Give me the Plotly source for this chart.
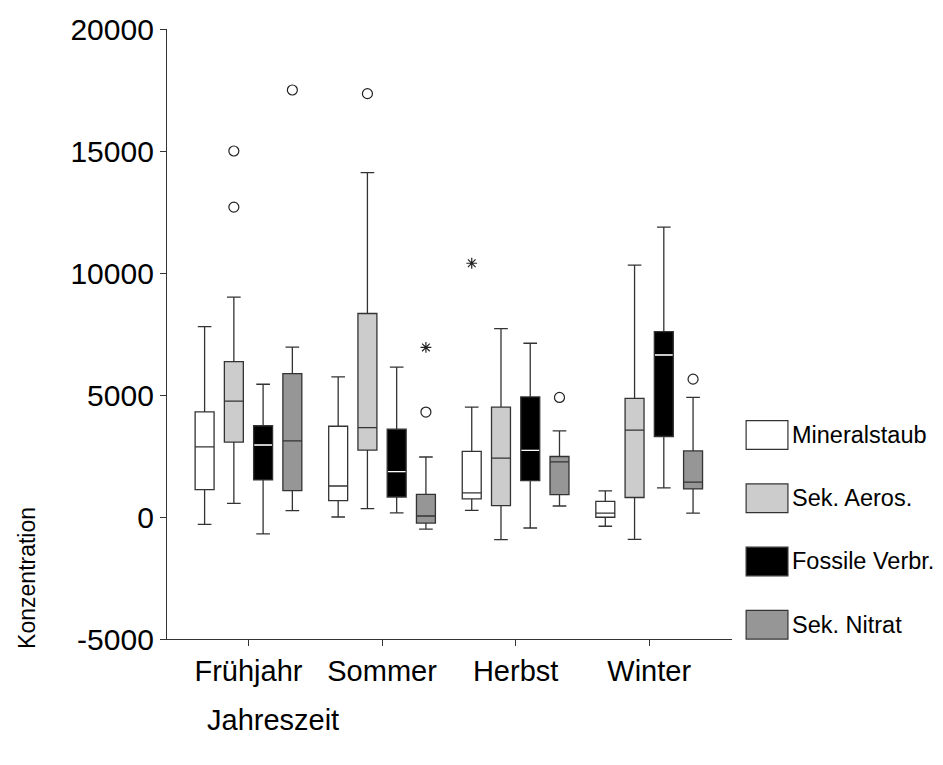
import plotly.graph_objects as go

seasons = ["Frühjahr", "Sommer", "Herbst", "Winter"]
series = ["Mineralstaub", "Sek. Aeros.", "Fossile Verbr.", "Sek. Nitrat"]

# Five-number summaries (whisker low, Q1, median, Q3, whisker high) per season
mineral_low = [-300, 0, 270, -380]
mineral_q1 = [1120, 670, 740, -10]
mineral_med = [2870, 1270, 990, 160]
mineral_q3 = [4310, 3720, 2690, 640]
mineral_high = [7800, 5740, 4500, 1070]

aeros_low = [560, 340, -930, -920]
aeros_q1 = [3070, 2740, 470, 800]
aeros_med = [4750, 3660, 2410, 3560]
aeros_q3 = [6370, 8340, 4500, 4860]
aeros_high = [9010, 14110, 7720, 10320]

fossil_low = [-690, 170, -450, 1190]
fossil_q1 = [1520, 820, 1490, 3300]
fossil_med = [2950, 1860, 2730, 6640]
fossil_q3 = [3740, 3600, 4920, 7600]
fossil_high = [5440, 6140, 7120, 11880]

nitrat_low = [260, -500, 450, 160]
nitrat_q1 = [1080, -250, 920, 1150]
nitrat_med = [3120, 40, 2260, 1430]
nitrat_q3 = [5880, 930, 2480, 2710]
nitrat_high = [6960, 2460, 3530, 4900]

# Outliers: series index, season index, value, extreme (asterisk) or not (circle)
outlier_series = [1, 1, 3, 1, 3, 3, 0, 3, 3]
outlier_season = [0, 0, 0, 1, 1, 1, 2, 2, 3]
outlier_value = [15000, 12700, 17500, 17350, 6950, 4300, 10400, 4900, 5650]
outlier_extreme = [False, False, False, False, True, False, True, False, False]

y_ticks = [-5000, 0, 5000, 10000, 15000, 20000]

summaries = [
    (mineral_low, mineral_q1, mineral_med, mineral_q3, mineral_high),
    (aeros_low, aeros_q1, aeros_med, aeros_q3, aeros_high),
    (fossil_low, fossil_q1, fossil_med, fossil_q3, fossil_high),
    (nitrat_low, nitrat_q1, nitrat_med, nitrat_q3, nitrat_high),
]
fills = ["#ffffff", "#cccccc", "#000000", "#969696"]
median_colors = ["#222222", "#333333", "#ffffff", "#333333"]
edge = "#333333"
font_family = "Liberation Sans, Arial, sans-serif"

step = 0.219      # distance between neighbouring boxes within a season
box_w = 0.142     # box width in axis units
offsets = [(i - 1.5) * step for i in range(len(series))]

fig = go.Figure()

for s, (lo, q1, med, q3, hi) in enumerate(summaries):
    xs = [k + offsets[s] for k in range(len(seasons))]
    fig.add_trace(go.Box(
        x=xs, lowerfence=lo, q1=q1, median=med, q3=q3, upperfence=hi,
        width=box_w, whiskerwidth=0.72, boxpoints=False,
        fillcolor=fills[s], line=dict(color=edge, width=1.3),
        name=series[s], showlegend=False,
    ))
    if median_colors[s] == "#ffffff":
        # light median line drawn on top of the dark box
        fig.add_trace(go.Box(
            x=xs, lowerfence=med, q1=med, median=med, q3=med, upperfence=med,
            width=box_w - 0.01, whiskerwidth=0.0, boxpoints=False,
            fillcolor="rgba(0,0,0,0)", line=dict(color="#ffffff", width=1.3),
            name=series[s] + " Median", showlegend=False, hoverinfo="skip",
        ))

for extreme, symbol in [(False, "circle-open"), (True, "asterisk-open")]:
    xs, ys = [], []
    for s, k, v, e in zip(outlier_series, outlier_season, outlier_value, outlier_extreme):
        if e == extreme:
            xs.append(k + offsets[s])
            ys.append(v)
    fig.add_trace(go.Scatter(
        x=xs, y=ys, mode="markers", showlegend=False,
        marker=dict(symbol=symbol, size=10 if not extreme else 9,
                    color="#222222", line=dict(width=1.2, color="#222222")),
    ))

# Legend drawn as swatches with labels to the right of the plot
shapes = []
annotations = []
row_top = 0.358
row_h = 0.047
row_gap = 0.1037
for s, name in enumerate(series):
    y1 = row_top - s * row_gap
    y0 = y1 - row_h
    shapes.append(dict(type="rect", xref="paper", yref="paper",
                       x0=1.025, x1=1.099, y0=y0, y1=y1,
                       fillcolor=fills[s], line=dict(color=edge, width=1.2)))
    annotations.append(dict(xref="paper", yref="paper", x=1.103, y=(y0 + y1) / 2,
                            text=name, showarrow=False, xanchor="left", yanchor="middle",
                            font=dict(family=font_family, size=23.5, color="#000000")))

annotations.append(dict(xref="paper", yref="paper", x=-0.248, y=0.10,
                        text="Konzentration", textangle=-90, showarrow=False,
                        xanchor="center", yanchor="middle",
                        font=dict(family=font_family, size=23, color="#000000")))
annotations.append(dict(xref="paper", yref="paper", x=0.188, y=-0.133,
                        text="Jahreszeit", showarrow=False,
                        xanchor="center", yanchor="middle",
                        font=dict(family=font_family, size=29, color="#000000")))

fig.update_layout(
    width=943, height=765,
    margin=dict(l=167, r=211, t=22, b=126),
    paper_bgcolor="#ffffff", plot_bgcolor="#ffffff",
    boxmode="overlay",
    shapes=shapes, annotations=annotations,
    font=dict(family=font_family, color="#000000"),
    xaxis=dict(range=[-0.61, 3.62], tickvals=list(range(len(seasons))), ticktext=seasons,
               showline=True, linecolor=edge, linewidth=1.3, ticks="outside", ticklen=6,
               tickcolor=edge, tickwidth=1.2, showgrid=False, zeroline=False,
               tickfont=dict(family=font_family, size=29, color="#000000")),
    yaxis=dict(range=[-5000, 20000], tickvals=y_ticks, ticktext=[str(v) for v in y_ticks],
               showline=True, linecolor=edge, linewidth=1.3, ticks="outside", ticklen=6,
               tickcolor=edge, tickwidth=1.2, showgrid=False, zeroline=False,
               tickfont=dict(family=font_family, size=30, color="#000000")),
)

fig.write_html("out.html")
